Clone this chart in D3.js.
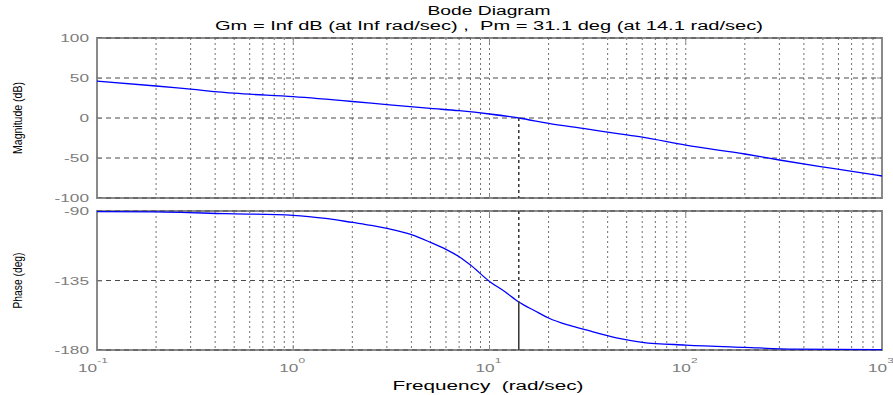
<!DOCTYPE html>
<html>
<head>
<meta charset="utf-8">
<script src="https://cdn.jsdelivr.net/npm/d3@7"></script>
<style>
  body { margin: 0; background: #fff; }
  svg { display: block; font-family: "Liberation Sans", Arial, sans-serif; }
</style>
</head>
<body>
<script>
// frequencies (rad/sec) and readings
const magFreq = [0.1, 0.2, 0.3, 0.5, 1, 2, 3, 5, 7, 10, 14.1, 20, 30, 45, 60, 100, 200, 300, 560, 1000];
const magDb   = [46.2, 40, 36, 31, 26.6, 20.6, 16.7, 12, 9.1, 5, 0, -6.7, -13, -19.5, -24, -34, -45, -52.5, -63, -72.5];

const phaseFreq = [0.1, 0.2, 0.45, 1, 1.5, 2, 2.5, 3, 4, 5, 6, 7, 8, 10, 12, 14.1, 17, 20, 25, 30, 45, 60, 100, 200, 360, 1000];
const phaseDeg  = [-90.4, -90.6, -91.7, -92.8, -95, -97.4, -99.3, -101.3, -105.3, -110.3, -114.8, -119.6, -125, -135.6, -142.3, -148.9, -154.6, -159.3, -163.8, -166.5, -172.3, -175, -176.8, -178.3, -179.4, -179.7];

const magTicks = [-100, -50, 0, 50, 100];
const phaseTicks = [-180, -135, -90];
const decades = [-1, 0, 1, 2, 3];

const wc = 14.1;      // gain crossover
const pmPhase = -148.9;

const width = 893, height = 395;
const left = 97, right = 882;
const sx = 1.5;       // glyphs in the reference are stretched sideways

const svg = d3.select("body").append("svg")
  .attr("width", width)
  .attr("height", height);

const x = d3.scaleLog().domain([0.1, 1000]).range([left, right]);
const yMag = d3.scaleLinear().domain([-100, 100]).range([198, 38]);
const yPh = d3.scaleLinear().domain([-180, -90]).range([350, 211]);

// minor grid positions 1..9 per decade
const gridX = [];
decades.slice(0, -1).forEach(e => {
  for (let k = 1; k < 10; k++) gridX.push(k * Math.pow(10, e));
});

const minus = d => d < 0 ? "-" + Math.abs(d) : String(d);

function panel(y, ticks, freq, vals) {
  const top = y.range()[1], bot = y.range()[0];
  const g = svg.append("g");

  // vertical dotted grid
  g.append("g").selectAll("line")
    .data(gridX.filter(f => f > 0.1))
    .join("line")
    .attr("x1", d => x(d)).attr("x2", d => x(d))
    .attr("y1", top).attr("y2", bot)
    .attr("stroke", "#707070")
    .attr("stroke-width", 1)
    .attr("stroke-dasharray", "2,3");

  // box
  g.append("rect")
    .attr("x", left).attr("y", top)
    .attr("width", right - left).attr("height", bot - top)
    .attr("fill", "none")
    .attr("stroke", "#8a8a8a")
    .attr("stroke-width", 2);

  // horizontal dashed grid
  g.append("g").selectAll("line")
    .data(ticks)
    .join("line")
    .attr("x1", left).attr("x2", right)
    .attr("y1", d => y(d)).attr("y2", d => y(d))
    .attr("stroke", "#4a4a4a")
    .attr("stroke-width", 1)
    .attr("stroke-dasharray", "5,4");

  // y axis ticks + labels
  const ax = g.append("g")
    .attr("transform", `translate(${left},0)`)
    .call(d3.axisLeft(y).tickValues(ticks).tickSize(-5).tickFormat(minus));
  ax.select(".domain").remove();
  ax.selectAll("line").attr("stroke", "#8a8a8a");
  ax.selectAll("text")
    .attr("x", null)
    .attr("transform", `translate(-8,0) scale(${sx},1)`)
    .attr("fill", "#7c7c7c")
    .style("font-size", "11.5px");

  // right side ticks
  g.append("g").selectAll("line")
    .data(ticks)
    .join("line")
    .attr("x1", right - 5).attr("x2", right)
    .attr("y1", d => y(d)).attr("y2", d => y(d))
    .attr("stroke", "#8a8a8a");

  // decade ticks top & bottom
  const dec = decades.map(e => Math.pow(10, e));
  [[bot, bot - 5], [top, top + 5]].forEach(([a, b]) => {
    g.append("g").selectAll("line")
      .data(dec)
      .join("line")
      .attr("x1", d => x(d)).attr("x2", d => x(d))
      .attr("y1", a).attr("y2", b)
      .attr("stroke", "#8a8a8a");
  });

  // response curve
  const line = d3.line()
    .x(d => x(d[0]))
    .y(d => y(d[1]))
    .curve(d3.curveMonotoneX);
  g.append("path")
    .datum(d3.zip(freq, vals))
    .attr("d", line)
    .attr("fill", "none")
    .attr("stroke", "#0000ff")
    .attr("stroke-width", 1.3);

  return g;
}

const gMag = panel(yMag, magTicks, magFreq, magDb);
const gPh = panel(yPh, phaseTicks, phaseFreq, phaseDeg);

// margin markers
gMag.append("line")
  .attr("x1", x(wc)).attr("x2", x(wc))
  .attr("y1", yMag(0)).attr("y2", yMag(-100))
  .attr("stroke", "#333").attr("stroke-width", 1.5)
  .attr("stroke-dasharray", "3,3");
gPh.append("line")
  .attr("x1", x(wc)).attr("x2", x(wc))
  .attr("y1", yPh(-90)).attr("y2", yPh(pmPhase))
  .attr("stroke", "#333").attr("stroke-width", 1.5)
  .attr("stroke-dasharray", "3,3");
gPh.append("line")
  .attr("x1", x(wc)).attr("x2", x(wc))
  .attr("y1", yPh(pmPhase)).attr("y2", yPh(-180))
  .attr("stroke", "#333").attr("stroke-width", 1.5);

// x tick labels 10^n
const xl = svg.append("g").selectAll("text")
  .data(decades)
  .join("text")
  .attr("transform", d => `translate(${x(Math.pow(10, d)) - (d < 0 ? 19 : 14)},372) scale(${sx},1)`)
  .attr("fill", "#7c7c7c")
  .style("font-size", "11.5px");
xl.append("tspan").text("10");
xl.append("tspan")
  .attr("dy", -9)
  .style("font-size", "8px")
  .text(d => minus(d));

// titles
svg.append("text")
  .attr("x", 489).attr("y", 15)
  .attr("text-anchor", "middle")
  .attr("textLength", 123)
  .attr("lengthAdjust", "spacingAndGlyphs")
  .style("font-size", "12px")
  .text("Bode Diagram");
svg.append("text")
  .attr("x", 489).attr("y", 30)
  .attr("text-anchor", "middle")
  .attr("textLength", 548)
  .attr("lengthAdjust", "spacingAndGlyphs")
  .style("font-size", "12px")
  .style("white-space", "pre")
  .text("Gm = Inf dB (at Inf rad/sec) ,  Pm = 31.1 deg (at 14.1 rad/sec)");

svg.append("text")
  .attr("x", 488).attr("y", 390)
  .attr("text-anchor", "middle")
  .attr("textLength", 191)
  .attr("lengthAdjust", "spacingAndGlyphs")
  .style("font-size", "12px")
  .style("white-space", "pre")
  .text("Frequency  (rad/sec)");

svg.append("text")
  .attr("transform", `translate(22,${yMag(0)}) rotate(-90)`)
  .attr("text-anchor", "middle")
  .attr("textLength", 72)
  .attr("lengthAdjust", "spacingAndGlyphs")
  .style("font-size", "12.5px")
  .text("Magnitude (dB)");
svg.append("text")
  .attr("transform", `translate(22,${yPh(-135)}) rotate(-90)`)
  .attr("text-anchor", "middle")
  .attr("textLength", 56)
  .attr("lengthAdjust", "spacingAndGlyphs")
  .style("font-size", "12.5px")
  .text("Phase (deg)");
</script>
</body>
</html>
